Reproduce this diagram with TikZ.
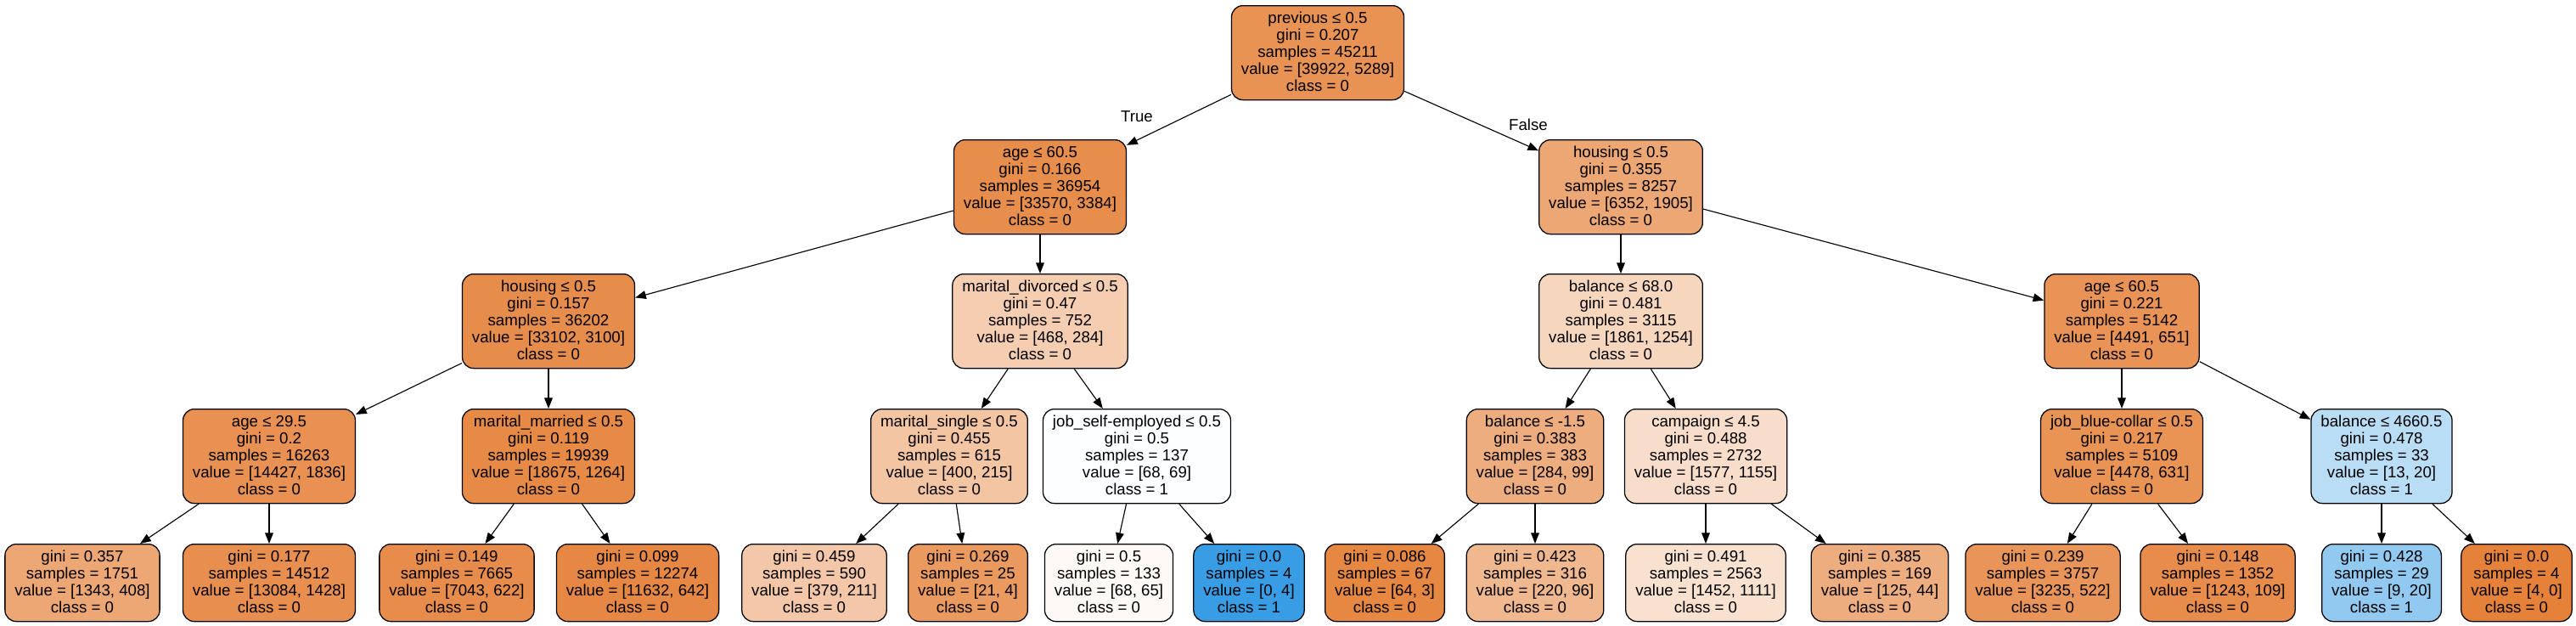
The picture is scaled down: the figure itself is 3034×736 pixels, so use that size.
\documentclass[tikz,border=0pt]{standalone}
\usepackage{fontspec}
\setmainfont{Liberation Sans}
\usetikzlibrary{arrows.meta}
\definecolor{cA}{RGB}{229,129,57}
\definecolor{cB}{RGB}{57,157,229}
\newcommand{\tfont}{\fontsize{14pt}{15pt}\selectfont}
\newcommand{\tst}{\rule[-2.8pt]{0pt}{13.2pt}}
\newcommand{\tfive}[5]{\tst#1\\#2\\#3\\#4\\#5\tst}
\newcommand{\tfour}[4]{\tst#1\\#2\\#3\\#4\tst}
\tikzset{
  tnode/.style={draw=black, line width=0.95pt, rounded corners=10pt, align=center,
    inner xsep=8.6pt, inner ysep=0pt, anchor=north, font=\tfont, minimum height=83.25pt},
  tleaf/.style={tnode, minimum height=68.25pt},
  tedge/.style={-{Triangle[length=9.5pt,width=7.3pt]}, line width=0.85pt, draw=black},
  elab/.style={font=\tfont, inner sep=0pt}
}
\begin{document}
\begin{tikzpicture}[x=0.75pt,y=-0.75pt]
\useasboundingbox (0,0) rectangle (3034,736);
\fill[white] (0,0) rectangle (3034,736);
% level 0
\node[tnode, fill=cA!86.8!white] (root) at (1552,6) {\tfive{previous ≤ 0.5}{gini = 0.207}{samples = 45211}{value = [39922, 5289]}{class = 0}};
% level 1
\node[tnode, fill=cA!89.9!white] (ageA) at (1225,164) {\tfive{age ≤ 60.5}{gini = 0.166}{samples = 36954}{value = [33570, 3384]}{class = 0}};
\node[tnode, fill=cA!70.0!white] (housR) at (1909,164) {\tfive{housing ≤ 0.5}{gini = 0.355}{samples = 8257}{value = [6352, 1905]}{class = 0}};
% level 2
\node[tnode, fill=cA!90.6!white] (housL) at (646,322) {\tfive{housing ≤ 0.5}{gini = 0.157}{samples = 36202}{value = [33102, 3100]}{class = 0}};
\node[tnode, fill=cA!39.3!white] (mardiv) at (1225,322) {\tfive{marital\_divorced ≤ 0.5}{gini = 0.47}{samples = 752}{value = [468, 284]}{class = 0}};
\node[tnode, fill=cA!32.6!white] (bal68) at (1909,322) {\tfive{balance ≤ 68.0}{gini = 0.481}{samples = 3115}{value = [1861, 1254]}{class = 0}};
\node[tnode, fill=cA!85.5!white] (ageR) at (2499,322) {\tfive{age ≤ 60.5}{gini = 0.221}{samples = 5142}{value = [4491, 651]}{class = 0}};
% level 3
\node[tnode, fill=cA!87.3!white] (age29) at (317,481) {\tfive{age ≤ 29.5}{gini = 0.2}{samples = 16263}{value = [14427, 1836]}{class = 0}};
\node[tnode, fill=cA!93.2!white] (marmar) at (646,481) {\tfive{marital\_married ≤ 0.5}{gini = 0.119}{samples = 19939}{value = [18675, 1264]}{class = 0}};
\node[tnode, fill=cA!46.3!white] (marsin) at (1118,481) {\tfive{marital\_single ≤ 0.5}{gini = 0.455}{samples = 615}{value = [400, 215]}{class = 0}};
\node[tnode, fill=cB!1.4!white] (jobself) at (1339,481) {\tfive{job\_self-employed ≤ 0.5}{gini = 0.5}{samples = 137}{value = [68, 69]}{class = 1}};
\node[tnode, fill=cA!65.1!white] (balm) at (1808,481) {\tfive{balance ≤ -1.5}{gini = 0.383}{samples = 383}{value = [284, 99]}{class = 0}};
\node[tnode, fill=cA!26.8!white] (camp) at (2009,481) {\tfive{campaign ≤ 4.5}{gini = 0.488}{samples = 2732}{value = [1577, 1155]}{class = 0}};
\node[tnode, fill=cA!85.9!white] (jobblue) at (2499,481) {\tfive{job\_blue-collar ≤ 0.5}{gini = 0.217}{samples = 5109}{value = [4478, 631]}{class = 0}};
\node[tnode, fill=cB!35!white] (bal46) at (2805,481) {\tfive{balance ≤ 4660.5}{gini = 0.478}{samples = 33}{value = [13, 20]}{class = 1}};
% leaves
\node[tleaf, fill=cA!69.6!white] (l1) at (97,640) {\tfour{gini = 0.357}{samples = 1751}{value = [1343, 408]}{class = 0}};
\node[tleaf, fill=cA!89.1!white] (l2) at (317,640) {\tfour{gini = 0.177}{samples = 14512}{value = [13084, 1428]}{class = 0}};
\node[tleaf, fill=cA!91.2!white] (l3) at (538,640) {\tfour{gini = 0.149}{samples = 7665}{value = [7043, 622]}{class = 0}};
\node[tleaf, fill=cA!94.5!white] (l4) at (751,640) {\tfour{gini = 0.099}{samples = 12274}{value = [11632, 642]}{class = 0}};
\node[tleaf, fill=cA!44.3!white] (l5) at (959,640) {\tfour{gini = 0.459}{samples = 590}{value = [379, 211]}{class = 0}};
\node[tleaf, fill=cA!81.0!white] (l6) at (1140,640) {\tfour{gini = 0.269}{samples = 25}{value = [21, 4]}{class = 0}};
\node[tleaf, fill=cA!4.4!white] (l7) at (1306,640) {\tfour{gini = 0.5}{samples = 133}{value = [68, 65]}{class = 0}};
\node[tleaf, fill=cB] (l8) at (1471,640) {\tfour{gini = 0.0}{samples = 4}{value = [0, 4]}{class = 1}};
\node[tleaf, fill=cA!95.3!white] (l9) at (1631,640) {\tfour{gini = 0.086}{samples = 67}{value = [64, 3]}{class = 0}};
\node[tleaf, fill=cA!56.4!white] (l10) at (1808,640) {\tfour{gini = 0.423}{samples = 316}{value = [220, 96]}{class = 0}};
\node[tleaf, fill=cA!23.5!white] (l11) at (2009,640) {\tfour{gini = 0.491}{samples = 2563}{value = [1452, 1111]}{class = 0}};
\node[tleaf, fill=cA!64.8!white] (l12) at (2214,640) {\tfour{gini = 0.385}{samples = 169}{value = [125, 44]}{class = 0}};
\node[tleaf, fill=cA!83.9!white] (l13) at (2406,640) {\tfour{gini = 0.239}{samples = 3757}{value = [3235, 522]}{class = 0}};
\node[tleaf, fill=cA!91.2!white] (l14) at (2612,640) {\tfour{gini = 0.148}{samples = 1352}{value = [1243, 109]}{class = 0}};
\node[tleaf, fill=cB!55!white] (l15) at (2805,640) {\tfour{gini = 0.428}{samples = 29}{value = [9, 20]}{class = 1}};
\node[tleaf, fill=cA] (l16) at (2964,640) {\tfour{gini = 0.0}{samples = 4}{value = [4, 0]}{class = 0}};
% edges
\draw[tedge] (root) -- (ageA);
\draw[tedge] (root) -- (housR);
\draw[tedge] (ageA) -- (housL);
\draw[tedge] (ageA) -- (mardiv);
\draw[tedge] (housR) -- (bal68);
\draw[tedge] (housR) -- (ageR);
\draw[tedge] (housL) -- (age29);
\draw[tedge] (housL) -- (marmar);
\draw[tedge] (mardiv) -- (marsin);
\draw[tedge] (mardiv) -- (jobself);
\draw[tedge] (bal68) -- (balm);
\draw[tedge] (bal68) -- (camp);
\draw[tedge] (ageR) -- (jobblue);
\draw[tedge] (ageR) -- (bal46);
\draw[tedge] (age29) -- (l1);
\draw[tedge] (age29) -- (l2);
\draw[tedge] (marmar) -- (l3);
\draw[tedge] (marmar) -- (l4);
\draw[tedge] (marsin) -- (l5);
\draw[tedge] (marsin) -- (l6);
\draw[tedge] (jobself) -- (l7);
\draw[tedge] (jobself) -- (l8);
\draw[tedge] (balm) -- (l9);
\draw[tedge] (balm) -- (l10);
\draw[tedge] (camp) -- (l11);
\draw[tedge] (camp) -- (l12);
\draw[tedge] (jobblue) -- (l13);
\draw[tedge] (jobblue) -- (l14);
\draw[tedge] (bal46) -- (l15);
\draw[tedge] (bal46) -- (l16);
% edge labels
\node[elab] (tlab) at (1339,137) {True};
\node[elab] (flab) at (1800,147) {False};
\end{tikzpicture}
\end{document}
